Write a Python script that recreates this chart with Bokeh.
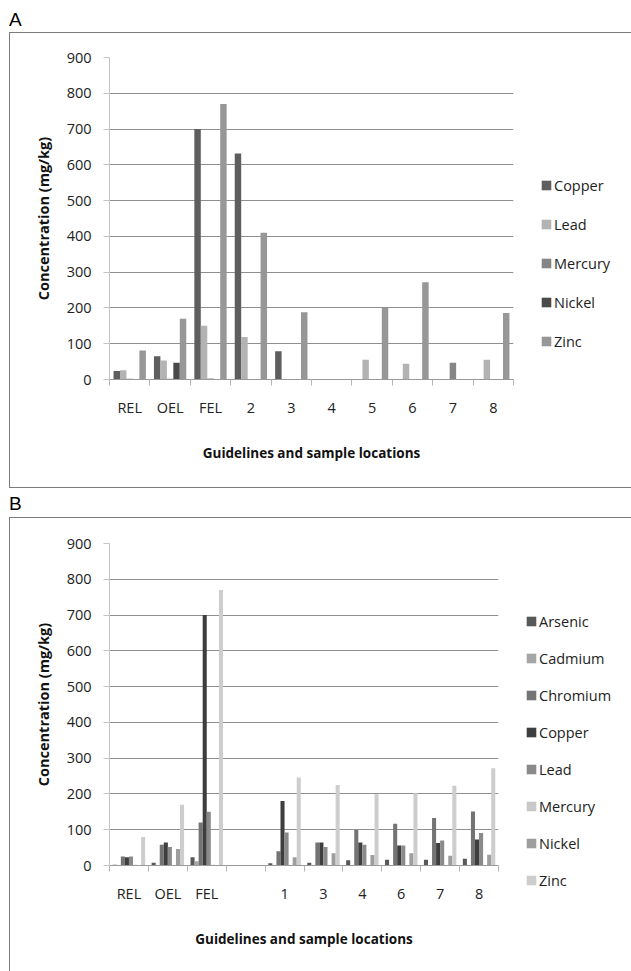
import numpy as np
from bokeh.plotting import figure
from bokeh.models import (ColumnDataSource, Range1d, LinearAxis, FixedTicker, Legend,
                          LegendItem, Div, Grid)
from bokeh.layouts import column
from bokeh.transform import dodge
from bokeh.embed import file_html
from bokeh.resources import INLINE

# ---------------- data: panel A ----------------
cats_a = ["REL", "OEL", "FEL", "2", "3", "4", "5", "6", "7", "8"]
metals_a = ["Copper", "Lead", "Mercury", "Nickel", "Zinc"]
copper_a = [24, 65, 700, 632, 79, 0, 0, 0, 0, 0]
lead_a = [26, 53, 150, 119, 0, 0, 55, 44, 0, 55]
mercury_a = [2, 2, 3, 0, 0, 0, 0, 0, 47, 0]
nickel_a = [0, 47, 0, 0, 0, 0, 0, 0, 0, 0]
zinc_a = [81, 170, 770, 410, 188, 0, 200, 272, 0, 186]

# ---------------- data: panel B ----------------
cats_b = ["REL", "OEL", "FEL", "", "1", "3", "4", "6", "7", "8"]
metals_b = ["Arsenic", "Cadmium", "Chromium", "Copper", "Lead", "Mercury", "Nickel", "Zinc"]
arsenic_b = [2, 8, 23, 0, 6, 8, 15, 16, 16, 19]
cadmium_b = [1, 1, 12, 0, 0, 0, 0, 0, 0, 0]
chromium_b = [25, 58, 120, 0, 40, 64, 99, 117, 133, 151]
copper_b = [23, 64, 700, 0, 180, 64, 64, 56, 63, 73]
lead_b = [25, 52, 150, 0, 92, 52, 58, 56, 70, 91]
mercury_b = [2, 1, 2, 0, 0, 0, 0, 0, 0, 0]
nickel_b = [0, 46, 0, 0, 23, 34, 29, 34, 27, 30]
zinc_b = [80, 170, 770, 0, 246, 225, 199, 202, 223, 272]

y_ticks = [0, 100, 200, 300, 400, 500, 600, 700, 800, 900]

colors_a = ["#5e5e5e", "#b3b3b3", "#858585", "#4a4a4a", "#979797"]
colors_b = ["#585858", "#a6a6a6", "#747474", "#3e3e3e", "#8a8a8a", "#c8c8c8", "#9e9e9e", "#cdcdcd"]

FONT = "Open Sans"


def make_panel(cats, names, series, colors, frame_w, min_top, min_bottom, min_right,
               legend_xy, legend_spacing):
    n = len(cats)
    k = len(names)
    data = {"x": np.arange(n) + 0.5}
    for nm, s in zip(names, series):
        data[nm] = s
    src = ColumnDataSource(data)

    p = figure(frame_width=frame_w, frame_height=320,
               x_range=Range1d(0, n), y_range=Range1d(0, 900),
               x_axis_type=None, y_axis_type=None, output_backend="svg",
               toolbar_location=None, min_border_left=99, min_border_right=min_right,
               min_border_top=min_top, min_border_bottom=min_bottom,
               outline_line_color=None, background_fill_color="white",
               border_fill_color="white", margin=(0, 0, 0, 9))
    p.styles = {"border": "1px solid #7c7c7c"}

    grid = Grid(dimension=1, ticker=FixedTicker(ticks=y_ticks),
                grid_line_color="#8f8f8f", grid_line_width=1)
    p.add_layout(grid)

    group = 0.8 if k == 5 else 0.834
    bw = group / k
    renderers = []
    for j, (nm, c) in enumerate(zip(names, colors)):
        off = (j - (k - 1) / 2) * bw
        r = p.vbar(x=dodge("x", off, range=p.x_range), top=nm, width=bw, bottom=0,
                   source=src, fill_color=c, line_color=None)
        renderers.append(r)

    # y axis
    yax = LinearAxis(ticker=FixedTicker(ticks=y_ticks),
                     axis_label="Concentration (mg/kg)")
    yax.axis_line_color = "#c4c4c4"
    yax.major_tick_line_color = "#c4c4c4"
    yax.major_tick_out = 6
    yax.major_tick_in = 0
    yax.minor_tick_line_color = None
    yax.major_label_text_font = FONT
    yax.major_label_text_font_size = "14.5px"
    yax.major_label_text_color = "#222222"
    yax.major_label_standoff = 12
    yax.axis_label_text_font = FONT
    yax.axis_label_text_font_style = "bold"
    yax.axis_label_text_font_size = "14.5px"
    yax.axis_label_text_color = "#111111"
    yax.axis_label_standoff = 11
    p.add_layout(yax, "left")

    # x axis: labels at centres, tick marks at category boundaries
    centers = [i + 0.5 for i in range(n)]
    xax = LinearAxis(ticker=FixedTicker(ticks=centers, minor_ticks=list(range(n + 1))),
                     axis_label="Guidelines and sample locations")
    xax.major_label_overrides = {c: lab for c, lab in zip(centers, cats)}
    xax.axis_line_color = "#9a9a9a"
    xax.major_tick_line_color = None
    xax.major_tick_out = 0
    xax.major_tick_in = 0
    xax.minor_tick_line_color = "#b5b5b5"
    xax.minor_tick_out = 6
    xax.minor_tick_in = 0
    xax.major_label_text_font = FONT
    xax.major_label_text_font_size = "14.5px"
    xax.major_label_text_color = "#222222"
    xax.major_label_standoff = 12
    xax.axis_label_text_font = FONT
    xax.axis_label_text_font_style = "bold"
    xax.axis_label_text_font_size = "13.5px"
    xax.axis_label_text_color = "#111111"
    xax.axis_label_standoff = 24
    p.add_layout(xax, "below")

    legend = Legend(items=[LegendItem(label=nm, renderers=[r]) for nm, r in zip(names, renderers)],
                    location=legend_xy, orientation="vertical",
                    border_line_color=None, background_fill_alpha=0,
                    padding=0, margin=0, spacing=legend_spacing,
                    glyph_width=12, glyph_height=12, label_standoff=2,
                    label_height=20,
                    label_text_font=FONT, label_text_font_size="14.5px",
                    label_text_color="#222222")
    p.add_layout(legend, "right")
    return p


p_a = make_panel(cats_a, metals_a, [copper_a, lead_a, mercury_a, nickel_a, zinc_a], colors_a,
                 frame_w=402, min_top=24, min_bottom=110, min_right=116,
                 legend_xy=(27, 28), legend_spacing=19)
p_b = make_panel(cats_b, metals_b, [arsenic_b, cadmium_b, chromium_b, copper_b, lead_b,
                                    mercury_b, nickel_b, zinc_b], colors_b,
                 frame_w=387, min_top=25, min_bottom=108, min_right=131,
                 legend_xy=(27, -25), legend_spacing=17)

lab_style = "font-family: 'Liberation Sans', Arial, sans-serif; font-size: 19px; line-height: 19px; color: #000;"
div_a = Div(text=f'<div style="{lab_style} padding: 10px 0 0 9px;">A</div>', width=631, height=32,
            margin=0)
div_b = Div(text=f'<div style="{lab_style} padding: 6px 0 0 9px;">B</div>', width=631, height=29,
            margin=0)

layout = column(div_a, p_a, div_b, p_b, spacing=0)

open("out.html", "w").write(file_html(layout, INLINE))
